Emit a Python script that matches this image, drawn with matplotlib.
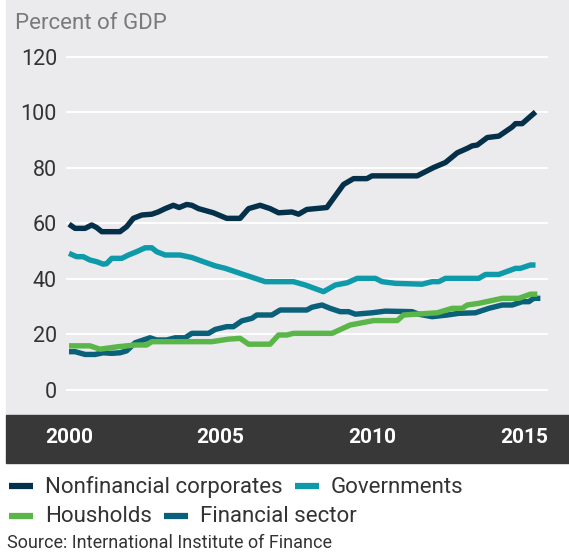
import matplotlib
matplotlib.use("Agg")
import matplotlib.pyplot as plt
from matplotlib.patches import Rectangle
from matplotlib.lines import Line2D

plt.rcParams['font.family'] = ['Roboto', 'DejaVu Sans']

# ---------------- data ----------------
nonfin_t = [2000.0, 2000.2, 2000.53, 2000.75, 2000.91, 2001.08, 2001.68, 2001.9, 2002.12, 2002.4,
            2002.73, 2002.94, 2003.17, 2003.44, 2003.63, 2003.88, 2004.05, 2004.27, 2004.76, 2005.2,
            2005.64, 2005.92, 2006.3, 2006.63, 2006.91, 2007.35, 2007.57, 2007.84, 2008.5, 2009.05,
            2009.38, 2009.82, 2009.99, 2011.48, 2012.02, 2012.41, 2012.8, 2013.13, 2013.29, 2013.46,
            2013.79, 2014.17, 2014.61, 2014.72, 2014.94, 2015.38]
nonfin_v = [59.7, 58.2, 58.2, 59.4, 58.5, 57.0, 57.0, 58.8, 61.8, 63.0,
            63.3, 64.1, 65.3, 66.5, 65.7, 66.8, 66.5, 65.3, 63.8, 61.8,
            61.8, 65.3, 66.5, 65.3, 63.8, 64.1, 63.3, 65.0, 65.7, 74.0,
            76.1, 76.1, 77.1, 77.1, 80.1, 81.9, 85.4, 87.0, 87.9, 88.2,
            90.9, 91.4, 94.7, 95.9, 95.9, 100.1]

gov_t = [2000.0, 2000.25, 2000.47, 2000.69, 2000.91, 2001.13, 2001.24, 2001.41, 2001.74, 2001.96,
         2002.23, 2002.51, 2002.73, 2002.89, 2003.17, 2003.66, 2004.05, 2004.43, 2004.82, 2005.15,
         2005.64, 2006.47, 2007.4, 2007.79, 2008.39, 2008.78, 2009.17, 2009.5, 2010.1, 2010.32,
         2010.76, 2011.64, 2011.97, 2012.19, 2012.41, 2013.51, 2013.73, 2014.17, 2014.72, 2014.88,
         2015.21, 2015.38]
gov_v = [49.2, 48.0, 48.0, 46.8, 46.2, 45.3, 45.5, 47.4, 47.4, 48.6,
         49.8, 51.2, 51.2, 49.8, 48.6, 48.6, 47.7, 46.2, 44.7, 43.8,
         42.0, 39.0, 39.0, 37.8, 35.4, 37.8, 38.6, 40.2, 40.2, 39.0,
         38.4, 38.1, 39.0, 39.0, 40.2, 40.2, 41.6, 41.6, 43.8, 43.8,
         45.0, 45.0]

hh_t = [2000.0, 2000.69, 2001.02, 2001.63, 2002.18, 2002.56, 2002.73, 2003.83, 2004.71, 2005.25,
        2005.64, 2005.92, 2006.63, 2006.91, 2007.18, 2007.4, 2008.67, 2009.27, 2010.04, 2010.82,
        2011.03, 2012.14, 2012.63, 2012.96, 2013.13, 2013.51, 2014.28, 2014.83, 2015.21, 2015.44]
hh_v = [15.9, 15.9, 14.7, 15.6, 16.2, 16.2, 17.4, 17.4, 17.4, 18.3,
        18.6, 16.5, 16.5, 19.8, 19.8, 20.4, 20.4, 23.4, 25.0, 25.0,
        27.0, 27.8, 29.4, 29.4, 30.6, 31.2, 33.0, 33.0, 34.5, 34.5]

fin_t = [2000.0, 2000.2, 2000.53, 2000.86, 2001.13, 2001.41, 2001.68, 2001.9, 2002.18, 2002.45,
         2002.67, 2002.89, 2003.22, 2003.5, 2003.83, 2004.05, 2004.6, 2004.82, 2005.2, 2005.42,
         2005.7, 2006.03, 2006.19, 2006.69, 2006.96, 2007.84, 2008.01, 2008.34, 2008.61, 2008.94,
         2009.22, 2009.44, 2009.99, 2010.43, 2011.31, 2011.53, 2011.97, 2012.47, 2012.85, 2013.4,
         2013.84, 2014.28, 2014.61, 2014.94, 2015.16, 2015.32, 2015.54]
fin_v = [13.8, 13.8, 12.8, 12.8, 13.4, 13.2, 13.4, 14.1, 17.0, 18.0,
         18.8, 18.0, 18.0, 18.8, 18.8, 20.4, 20.4, 21.8, 22.8, 22.8,
         24.9, 25.8, 27.0, 27.0, 28.8, 28.8, 29.8, 30.6, 29.4, 28.2,
         28.2, 27.3, 27.8, 28.4, 28.2, 27.3, 26.4, 27.0, 27.6, 27.8,
         29.4, 30.6, 30.6, 31.8, 31.8, 33.0, 33.0]

series_names = ["Nonfinancial corporates", "Governments", "Housholds", "Financial sector"]
x_ticks = [2000, 2005, 2010, 2015]
x_tick_labels = ["2000", "2005", "2010", "2015"]
y_ticks = [0, 20, 40, 60, 80, 100, 120]
y_label = "Percent of GDP"
source = "Source: International Institute of Finance"

# ---------------- styling ----------------
C_NONFIN = "#05304a"
C_GOV = "#0e9aa9"
C_HH = "#5bb649"
C_FIN = "#0a6078"
PANEL = "#ebebed"
BAND = "#383838"
TXT = "#333333"

W, H = 569, 552
fig = plt.figure(figsize=(W / 100, H / 100), dpi=100)
fig.patch.set_facecolor("white")


def fx(px):
    return px / W


def fy(py):
    return 1 - py / H


# grey panel and dark year band (behind the axes)
fig.patches.append(Rectangle((fx(6), fy(415)), fx(W) - fx(6), 415 / H,
                             transform=fig.transFigure, color=PANEL, zorder=-10))
fig.patches.append(Rectangle((fx(6), fy(463)), fx(W) - fx(6), 48 / H,
                             transform=fig.transFigure, color=BAND, zorder=-10))

# axes: x 66..548 px, y 0..415 px
ax_left, ax_right, ax_top, ax_bot = 66, 548, 0, 415
ax = fig.add_axes([fx(ax_left), fy(ax_bot), (ax_right - ax_left) / W, (ax_bot - ax_top) / H])
ax.patch.set_alpha(0)
ax.set_zorder(1)

x0_px, px_per_year = 69.0, (524.0 - 69.0) / 15.0
y0_px, px_per_unit = 390.0, (390.0 - 56.7) / 120.0
ax.set_xlim(2000 + (ax_left - x0_px) / px_per_year, 2000 + (ax_right - x0_px) / px_per_year)
ax.set_ylim(-(ax_bot - y0_px) / px_per_unit, (y0_px - ax_top) / px_per_unit)

for s in ax.spines.values():
    s.set_visible(False)

ax.set_yticks(y_ticks)
ax.yaxis.grid(True, color="white", lw=1.3)
ax.set_axisbelow(True)
ax.tick_params(axis="y", length=0, pad=6.5, labelsize=15.5, labelcolor=TXT)

ax.set_xticks(x_ticks)
ax.set_xticklabels(x_tick_labels, fontweight="bold", fontsize=15, color="white")
ax.tick_params(axis="x", length=0, pad=16.2)
for lab in ax.get_xticklabels():
    lab.set_verticalalignment("center")

lw = 3.9
ax.plot(fin_t, fin_v, color=C_FIN, lw=lw, solid_capstyle="butt", zorder=3)
ax.plot(hh_t, hh_v, color=C_HH, lw=lw, solid_capstyle="butt", zorder=4)
ax.plot(gov_t, gov_v, color=C_GOV, lw=lw, solid_capstyle="butt", zorder=5)
ax.plot(nonfin_t, nonfin_v, color=C_NONFIN, lw=lw, solid_capstyle="butt", zorder=6)

# title-like label
fig.text(fx(15), fy(29.3), y_label, fontsize=16, color="#7a7a7a", va="baseline", ha="left")

# legend (flowing layout, drawn manually)
renderer = fig.canvas.get_renderer()


def legend_row(entries, y_line, y_base):
    x = 9.0
    for name, col in entries:
        fig.add_artist(Line2D([fx(x), fx(x + 24)], [fy(y_line), fy(y_line)],
                              transform=fig.transFigure, color=col, lw=4.5,
                              solid_capstyle="butt"))
        t = fig.text(fx(x + 36), fy(y_base), name, fontsize=16, color=TXT,
                     va="baseline", ha="left")
        bb = t.get_window_extent(renderer=renderer)
        x = bb.x1 + 12


legend_row([(series_names[0], C_NONFIN), (series_names[1], C_GOV)], 486, 492.7)
legend_row([(series_names[2], C_HH), (series_names[3], C_FIN)], 516, 522.2)

fig.text(fx(7), fy(548), source, fontsize=13, color=TXT, va="baseline", ha="left")

fig.savefig("out.png", dpi=100, facecolor="white")
